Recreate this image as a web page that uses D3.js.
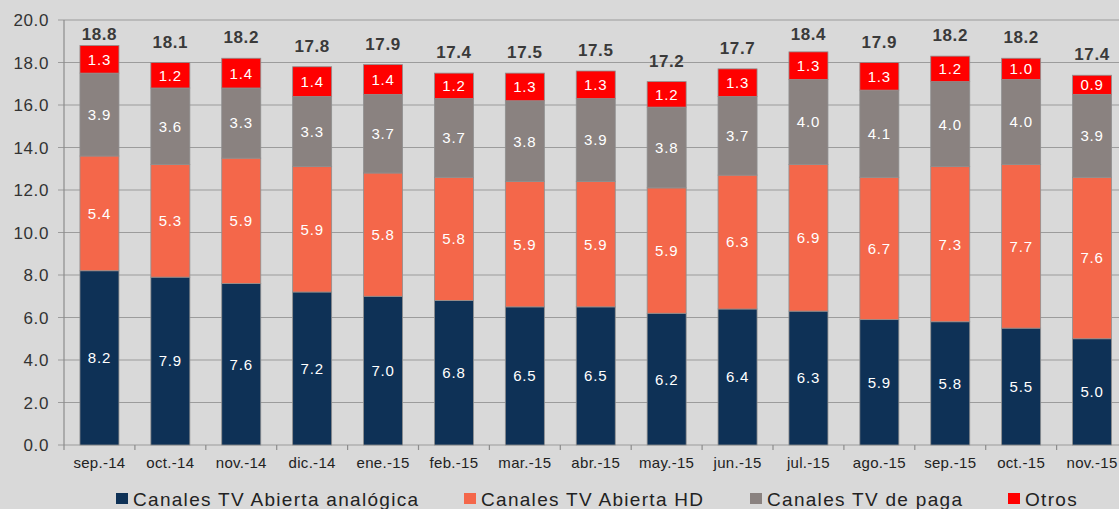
<!DOCTYPE html>
<html>
<head>
<meta charset="utf-8">
<script src="https://cdn.jsdelivr.net/npm/d3@7"></script>
<style>
  html, body { margin: 0; padding: 0; background: #d9d9d9; }
  svg { display: block; font-family: "Liberation Sans", Arial, sans-serif; }
</style>
</head>
<body>
<script>
// data
let months = ["sep.-14", "oct.-14", "nov.-14", "dic.-14", "ene.-15", "feb.-15", "mar.-15", "abr.-15",
              "may.-15", "jun.-15", "jul.-15", "ago.-15", "sep.-15", "oct.-15", "nov.-15"]
let analogica = [8.2, 7.9, 7.6, 7.2, 7.0, 6.8, 6.5, 6.5, 6.2, 6.4, 6.3, 5.9, 5.8, 5.5, 5.0]
let abiertaHD = [5.4, 5.3, 5.9, 5.9, 5.8, 5.8, 5.9, 5.9, 5.9, 6.3, 6.9, 6.7, 7.3, 7.7, 7.6]
let dePaga    = [3.9, 3.6, 3.3, 3.3, 3.7, 3.7, 3.8, 3.9, 3.8, 3.7, 4.0, 4.1, 4.0, 4.0, 3.9]
let otros     = [1.3, 1.2, 1.4, 1.4, 1.4, 1.2, 1.3, 1.3, 1.2, 1.3, 1.3, 1.3, 1.2, 1.0, 0.9]
let totals    = [18.8, 18.1, 18.2, 17.8, 17.9, 17.4, 17.5, 17.5, 17.2, 17.7, 18.4, 17.9, 18.2, 18.2, 17.4]
let seriesNames = ["Canales TV Abierta analógica", "Canales TV Abierta HD", "Canales TV de paga", "Otros"]
let yTicks = [0, 2, 4, 6, 8, 10, 12, 14, 16, 18, 20]

let W = 1119, H = 509
let plotLeft = 64, plotTop = 20, plotBottom = 445

let colors = ["#0e3156", "#f4674a", "#8a8280", "#ff0000"]
let keys = ["a", "hd", "p", "o"]

let rows = months.map((m, i) => ({m: m, a: analogica[i], hd: abiertaHD[i], p: dePaga[i], o: otros[i], total: totals[i]}))

let svg = d3.select("body").append("svg")
    .attr("width", W)
    .attr("height", H)

let x = d3.scaleBand()
    .domain(months)
    .range([plotLeft, plotLeft + 15 * 70.9])

let y = d3.scaleLinear()
    .domain([0, 20])
    .range([plotBottom, plotTop])

// gridlines
svg.append("g")
  .selectAll("line")
  .data(yTicks)
  .enter().append("line")
    .attr("x1", plotLeft - 6)
    .attr("x2", W)
    .attr("y1", d => y(d))
    .attr("y2", d => y(d))
    .attr("stroke", "#9c9c9c")
    .attr("stroke-width", 1.2)

// y axis line
svg.append("line")
  .attr("x1", plotLeft).attr("x2", plotLeft)
  .attr("y1", plotTop).attr("y2", plotBottom)
  .attr("stroke", "#8c8c8c")
  .attr("stroke-width", 1.2)

// y tick labels
svg.append("g")
  .selectAll("text")
  .data(yTicks)
  .enter().append("text")
    .attr("x", 49)
    .attr("y", d => y(d))
    .attr("dy", "0.36em")
    .attr("text-anchor", "end")
    .attr("font-size", 17)
    .attr("letter-spacing", 0.6)
    .attr("fill", "#333")
    .text(d => d.toFixed(1))

// x axis ticks at band edges
let edges = months.map(m => x(m)).concat([x(months[14]) + x.bandwidth()])
svg.append("g")
  .selectAll("line")
  .data(edges)
  .enter().append("line")
    .attr("x1", d => d).attr("x2", d => d)
    .attr("y1", plotBottom).attr("y2", plotBottom + 5)
    .attr("stroke", "#8c8c8c")
    .attr("stroke-width", 1.2)

svg.append("g")
  .selectAll("text")
  .data(months)
  .enter().append("text")
    .attr("x", d => x(d) + x.bandwidth() / 2)
    .attr("y", 468)
    .attr("text-anchor", "middle")
    .attr("font-size", 15)
    .attr("letter-spacing", 0.3)
    .attr("fill", "#222")
    .text(d => d)

// stacked bars
let stack = d3.stack().keys(keys)
let stacked = stack(rows)
let barW = 39

let layer = svg.selectAll(".layer")
  .data(stacked)
  .enter().append("g")
    .attr("class", "layer")
    .attr("fill", (d, i) => colors[i])

layer.selectAll("rect")
  .data(d => d)
  .enter().append("rect")
    .attr("x", d => x(d.data.m) + x.bandwidth() / 2 - barW / 2)
    .attr("width", barW)
    .attr("y", d => y(d[1]))
    .attr("height", d => y(d[0]) - y(d[1]))
    .attr("stroke", "#8f8f8f")
    .attr("stroke-width", 0.8)

// labels inside segments
layer.selectAll("text")
  .data(d => d.map(v => ({v: v, key: d.key})))
  .enter().append("text")
    .attr("x", d => x(d.v.data.m) + x.bandwidth() / 2)
    .attr("y", d => y((d.v[0] + d.v[1]) / 2))
    .attr("dy", "0.36em")
    .attr("text-anchor", "middle")
    .attr("font-size", 15)
    .attr("letter-spacing", 0.8)
    .attr("fill", "#fff")
    .text(d => d.v.data[d.key].toFixed(1))

// totals above bars
svg.append("g")
  .selectAll("text")
  .data(rows)
  .enter().append("text")
    .attr("x", d => x(d.m) + x.bandwidth() / 2)
    .attr("y", d => Math.max(y(d.a + d.hd + d.p + d.o) - 21, 34))
    .attr("dy", "0.36em")
    .attr("text-anchor", "middle")
    .attr("font-size", 17)
    .attr("font-weight", "bold")
    .attr("letter-spacing", 0.6)
    .attr("fill", "#3a3a3a")
    .text(d => d.total.toFixed(1))

// legend
let legendX = [116, 464, 750, 1008]
let legend = svg.append("g")
  .selectAll("g")
  .data(seriesNames)
  .enter().append("g")
    .attr("transform", (d, i) => "translate(" + legendX[i] + ",0)")

legend.append("rect")
  .attr("x", 0).attr("y", 493)
  .attr("width", 12).attr("height", 11)
  .attr("fill", (d, i) => colors[i])

legend.append("text")
  .attr("x", 17)
  .attr("y", 506)
  .attr("font-size", 19)
  .attr("letter-spacing", 1.3)
  .attr("fill", "#222")
  .text(d => d)
</script>
</body>
</html>
